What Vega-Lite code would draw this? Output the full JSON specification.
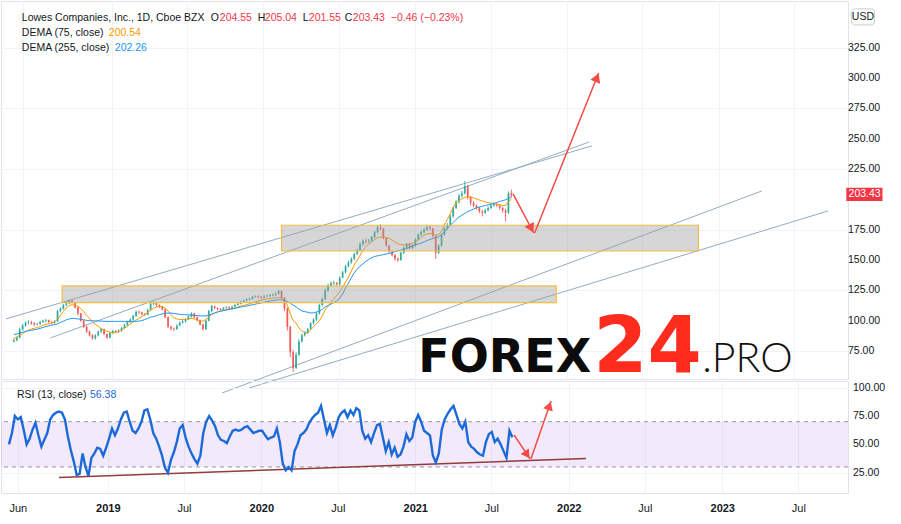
{
"$schema":"https://vega.github.io/schema/vega-lite/v6.json",
"padding":0,
"autosize":{"type":"pad"},
"background":"#ffffff",
"bounds":"flush",
"spacing":2,
"config":{"view":{"stroke":"#e0e3eb"},"text":{"font":"Liberation Sans"},"axis":{"labelFont":"Liberation Sans","labelColor":"#131722","gridColor":"#f0f3fa","domain":false,"ticks":false,"title":null}},
"datasets":{
"p":[
{"d":"2018-05-11","o":83,"h":85.5,"l":82,"c":84,"e1":85.5,"e2":88.8,"r":50},
{"d":"2018-05-18","o":84,"h":87,"l":83,"c":86,"e1":86.5,"e2":89,"r":60},
{"d":"2018-05-25","o":86,"h":94.5,"l":85.5,"c":93,"e1":88,"e2":89.8,"r":75},
{"d":"2018-06-01","o":93,"h":97.5,"l":92,"c":96,"e1":89.5,"e2":90.5,"r":72},
{"d":"2018-06-08","o":96,"h":99.5,"l":95,"c":98.5,"e1":91,"e2":91.2,"r":74},
{"d":"2018-06-15","o":98.5,"h":100.5,"l":97,"c":99,"e1":92.3,"e2":91.8,"r":63},
{"d":"2018-06-22","o":99,"h":100,"l":96.5,"c":98,"e1":93.2,"e2":92.2,"r":50},
{"d":"2018-06-29","o":98,"h":99,"l":95.5,"c":97,"e1":93.8,"e2":92.6,"r":55},
{"d":"2018-07-06","o":97,"h":98.5,"l":96,"c":97.5,"e1":94.3,"e2":93,"r":63},
{"d":"2018-07-13","o":97.5,"h":100,"l":96.5,"c":99,"e1":95.2,"e2":93.7,"r":69},
{"d":"2018-07-20","o":99,"h":101,"l":98,"c":100,"e1":96.2,"e2":94.5,"r":58},
{"d":"2018-07-27","o":100,"h":101.5,"l":98.5,"c":100.5,"e1":97,"e2":95.2,"r":48},
{"d":"2018-08-03","o":100.5,"h":101,"l":98,"c":99,"e1":97.4,"e2":95.8,"r":54},
{"d":"2018-08-10","o":99,"h":100,"l":97.5,"c":98.5,"e1":97.8,"e2":96.4,"r":60},
{"d":"2018-08-17","o":98.5,"h":100.5,"l":97.5,"c":99.5,"e1":99,"e2":96.7,"r":72},
{"d":"2018-08-24","o":99.5,"h":109,"l":99,"c":108,"e1":101.5,"e2":97.5,"r":76},
{"d":"2018-08-31","o":108,"h":111,"l":107,"c":110,"e1":104.5,"e2":98.5,"r":78},
{"d":"2018-09-07","o":110,"h":114,"l":109,"c":113,"e1":107.5,"e2":99.6,"r":79},
{"d":"2018-09-14","o":113,"h":116,"l":112,"c":114.5,"e1":110.5,"e2":100.7,"r":78},
{"d":"2018-09-21","o":114.5,"h":117.5,"l":113.5,"c":116.5,"e1":112.5,"e2":101.5,"r":72},
{"d":"2018-09-28","o":116.5,"h":117.5,"l":114,"c":115,"e1":113.2,"e2":102,"r":57},
{"d":"2018-10-05","o":115,"h":115.5,"l":110,"c":111,"e1":112.8,"e2":101.8,"r":45},
{"d":"2018-10-12","o":111,"h":111.5,"l":104.5,"c":106,"e1":112,"e2":101.5,"r":35},
{"d":"2018-10-19","o":106,"h":106.5,"l":99,"c":100,"e1":110,"e2":101.2,"r":23},
{"d":"2018-10-26","o":100,"h":101,"l":94,"c":95,"e1":107.5,"e2":100.8,"r":24},
{"d":"2018-11-02","o":95,"h":96,"l":90,"c":91,"e1":104.5,"e2":100.3,"r":42},
{"d":"2018-11-09","o":91,"h":92,"l":87,"c":88,"e1":102,"e2":100.1,"r":30},
{"d":"2018-11-16","o":88,"h":89,"l":84.5,"c":85.5,"e1":99,"e2":100,"r":22},
{"d":"2018-11-23","o":85.5,"h":89,"l":84.5,"c":88,"e1":97,"e2":99.9,"r":38},
{"d":"2018-11-30","o":88,"h":92,"l":87,"c":91,"e1":95.5,"e2":99.8,"r":42},
{"d":"2018-12-07","o":91,"h":94,"l":90,"c":93,"e1":93.5,"e2":99.7,"r":47},
{"d":"2018-12-14","o":93,"h":93.5,"l":88,"c":89,"e1":92.3,"e2":99.6,"r":46},
{"d":"2018-12-21","o":89,"h":89.5,"l":85,"c":86,"e1":91.3,"e2":99.5,"r":40},
{"d":"2018-12-28","o":86,"h":91,"l":85.5,"c":90,"e1":90.5,"e2":99.5,"r":47},
{"d":"2019-01-04","o":90,"h":92.5,"l":89,"c":91.5,"e1":90.2,"e2":99.5,"r":55},
{"d":"2019-01-11","o":91.5,"h":92.5,"l":90,"c":91,"e1":90.3,"e2":99.5,"r":64},
{"d":"2019-01-18","o":91,"h":93,"l":90,"c":92,"e1":91,"e2":99.5,"r":58},
{"d":"2019-01-25","o":92,"h":95,"l":91,"c":94,"e1":92,"e2":99.5,"r":64},
{"d":"2019-02-01","o":94,"h":97.5,"l":93.5,"c":96.5,"e1":93.8,"e2":99.5,"r":72},
{"d":"2019-02-08","o":96.5,"h":100,"l":95.5,"c":99,"e1":95.5,"e2":99.5,"r":78},
{"d":"2019-02-15","o":99,"h":102,"l":98,"c":101,"e1":97.3,"e2":99.5,"r":79},
{"d":"2019-02-22","o":101,"h":105,"l":100,"c":104,"e1":99,"e2":99.5,"r":70},
{"d":"2019-03-01","o":104,"h":108.5,"l":103,"c":107.5,"e1":100.6,"e2":99.5,"r":62},
{"d":"2019-03-08","o":107.5,"h":108.5,"l":105.5,"c":107,"e1":101.8,"e2":99.7,"r":60},
{"d":"2019-03-15","o":107,"h":107.5,"l":104.5,"c":105.5,"e1":103.5,"e2":100.2,"r":64},
{"d":"2019-03-22","o":105.5,"h":106.5,"l":104,"c":105,"e1":105,"e2":101,"r":70},
{"d":"2019-03-29","o":105,"h":110,"l":104.5,"c":109,"e1":107,"e2":102,"r":80},
{"d":"2019-04-05","o":109,"h":115,"l":108.5,"c":114,"e1":108.8,"e2":103,"r":81},
{"d":"2019-04-12","o":114,"h":116,"l":113,"c":114.5,"e1":110.3,"e2":103.5,"r":72},
{"d":"2019-04-19","o":114.5,"h":115,"l":112,"c":113,"e1":111.3,"e2":104.2,"r":60},
{"d":"2019-04-26","o":113,"h":113.5,"l":110.5,"c":111.5,"e1":111.8,"e2":105,"r":55},
{"d":"2019-05-03","o":111.5,"h":112,"l":108.5,"c":109.5,"e1":111.8,"e2":105.6,"r":48},
{"d":"2019-05-10","o":109.5,"h":110,"l":102,"c":103,"e1":110.5,"e2":106.2,"r":40},
{"d":"2019-05-17","o":103,"h":103.5,"l":94,"c":95,"e1":108,"e2":106.3,"r":29},
{"d":"2019-05-24","o":95,"h":96,"l":92,"c":93.5,"e1":105,"e2":106.3,"r":25},
{"d":"2019-05-31","o":93.5,"h":94.5,"l":91.5,"c":93,"e1":102.5,"e2":106,"r":36},
{"d":"2019-06-07","o":93,"h":97,"l":92.5,"c":96,"e1":101.5,"e2":105.7,"r":43},
{"d":"2019-06-14","o":96,"h":99.5,"l":95.5,"c":98.5,"e1":101,"e2":105.3,"r":52},
{"d":"2019-06-21","o":98.5,"h":101,"l":97.5,"c":99.5,"e1":101,"e2":105.1,"r":64},
{"d":"2019-06-28","o":99.5,"h":102,"l":98.5,"c":101,"e1":101.2,"e2":105,"r":67},
{"d":"2019-07-05","o":101,"h":104.5,"l":100.5,"c":103.5,"e1":101.7,"e2":104.8,"r":56},
{"d":"2019-07-12","o":103.5,"h":107,"l":102.5,"c":106,"e1":102,"e2":104.6,"r":48},
{"d":"2019-07-19","o":106,"h":106.5,"l":102,"c":103,"e1":101.5,"e2":104.4,"r":42},
{"d":"2019-07-26","o":103,"h":103.5,"l":99.5,"c":100.5,"e1":100.7,"e2":104.2,"r":37},
{"d":"2019-08-02","o":100.5,"h":101,"l":96,"c":97,"e1":100,"e2":104,"r":33},
{"d":"2019-08-09","o":97,"h":97.5,"l":92,"c":93,"e1":99.6,"e2":104,"r":40},
{"d":"2019-08-16","o":93,"h":101,"l":92.5,"c":100,"e1":101,"e2":104,"r":60},
{"d":"2019-08-23","o":100,"h":109,"l":99.5,"c":108,"e1":103,"e2":104.5,"r":70},
{"d":"2019-08-30","o":108,"h":113,"l":107,"c":112,"e1":105.3,"e2":105.5,"r":75},
{"d":"2019-09-06","o":112,"h":112.5,"l":109.5,"c":110.5,"e1":106.5,"e2":106.4,"r":71},
{"d":"2019-09-13","o":110.5,"h":111,"l":108.5,"c":109.5,"e1":107.3,"e2":107.2,"r":66},
{"d":"2019-09-20","o":109.5,"h":110.5,"l":108,"c":109,"e1":108,"e2":107.8,"r":58},
{"d":"2019-09-27","o":109,"h":111.5,"l":108.5,"c":110.5,"e1":108.6,"e2":108.3,"r":54},
{"d":"2019-10-04","o":110.5,"h":112,"l":109.5,"c":111,"e1":109,"e2":108.8,"r":53},
{"d":"2019-10-11","o":111,"h":112,"l":109,"c":110,"e1":109.3,"e2":109.3,"r":51},
{"d":"2019-10-18","o":110,"h":112.5,"l":109.5,"c":111.5,"e1":109.8,"e2":109.8,"r":57},
{"d":"2019-10-25","o":111.5,"h":114,"l":111,"c":113,"e1":110.5,"e2":110.3,"r":62},
{"d":"2019-11-01","o":113,"h":115,"l":112.5,"c":114,"e1":111.3,"e2":110.8,"r":63},
{"d":"2019-11-08","o":114,"h":116.5,"l":113.5,"c":115.5,"e1":112,"e2":111.3,"r":62},
{"d":"2019-11-15","o":115.5,"h":117.5,"l":115,"c":116.5,"e1":112.7,"e2":111.8,"r":63},
{"d":"2019-11-22","o":116.5,"h":118.5,"l":116,"c":117.5,"e1":113.3,"e2":112.2,"r":65},
{"d":"2019-11-29","o":117.5,"h":119,"l":117,"c":118,"e1":114,"e2":112.7,"r":66},
{"d":"2019-12-06","o":118,"h":120.5,"l":117.5,"c":119.5,"e1":114.8,"e2":113.2,"r":63},
{"d":"2019-12-13","o":119.5,"h":121,"l":119,"c":120,"e1":115.5,"e2":113.7,"r":60},
{"d":"2019-12-20","o":120,"h":121,"l":118.5,"c":119.5,"e1":116.3,"e2":114.2,"r":61},
{"d":"2019-12-27","o":119.5,"h":120.5,"l":118,"c":119,"e1":117,"e2":114.7,"r":62},
{"d":"2020-01-03","o":119,"h":121,"l":118.5,"c":120,"e1":117.5,"e2":115.3,"r":62},
{"d":"2020-01-10","o":120,"h":121.5,"l":119.5,"c":120.5,"e1":118,"e2":115.8,"r":58},
{"d":"2020-01-17","o":120.5,"h":122,"l":119.5,"c":121,"e1":118.4,"e2":116.3,"r":54.5},
{"d":"2020-01-24","o":121,"h":122.5,"l":120,"c":121.5,"e1":118.6,"e2":116.7,"r":56},
{"d":"2020-01-31","o":121.5,"h":123.5,"l":120.5,"c":122.5,"e1":118.9,"e2":117,"r":57},
{"d":"2020-02-07","o":122.5,"h":125.5,"l":121.5,"c":124.5,"e1":119.2,"e2":117.3,"r":64},
{"d":"2020-02-14","o":124.5,"h":125,"l":118,"c":119,"e1":119.1,"e2":117.2,"r":52},
{"d":"2020-02-21","o":119,"h":119.5,"l":108,"c":110,"e1":116.5,"e2":116.8,"r":33},
{"d":"2020-02-28","o":110,"h":111,"l":92,"c":95,"e1":113,"e2":116,"r":27},
{"d":"2020-03-06","o":95,"h":96,"l":70,"c":74,"e1":106,"e2":114.5,"r":30},
{"d":"2020-03-13","o":74,"h":76,"l":58,"c":61,"e1":100,"e2":112.8,"r":27},
{"d":"2020-03-20","o":61,"h":74,"l":60,"c":72,"e1":98,"e2":111.5,"r":44},
{"d":"2020-03-27","o":72,"h":85,"l":71,"c":83,"e1":94,"e2":109.5,"r":50},
{"d":"2020-04-03","o":83,"h":89.5,"l":82,"c":88,"e1":91.5,"e2":108,"r":58},
{"d":"2020-04-10","o":88,"h":91.5,"l":87,"c":90,"e1":90.3,"e2":107.5,"r":60},
{"d":"2020-04-17","o":90,"h":94,"l":89,"c":93,"e1":90.3,"e2":107,"r":63},
{"d":"2020-04-24","o":93,"h":99,"l":92.5,"c":98,"e1":92.5,"e2":106.4,"r":69},
{"d":"2020-05-01","o":98,"h":102,"l":97,"c":101,"e1":95,"e2":106.5,"r":73},
{"d":"2020-05-08","o":101,"h":107,"l":100,"c":106,"e1":97.5,"e2":107.2,"r":76},
{"d":"2020-05-15","o":106,"h":114,"l":105,"c":113,"e1":100,"e2":107.8,"r":78},
{"d":"2020-05-22","o":113,"h":119,"l":112,"c":118,"e1":104,"e2":109.5,"r":84},
{"d":"2020-05-29","o":118,"h":126.5,"l":117,"c":125,"e1":109,"e2":111.5,"r":72},
{"d":"2020-06-05","o":125,"h":130.5,"l":124,"c":129,"e1":112,"e2":112.5,"r":60},
{"d":"2020-06-12","o":129,"h":132.5,"l":128,"c":131,"e1":115.5,"e2":113.8,"r":67},
{"d":"2020-06-19","o":131,"h":133,"l":129.5,"c":131.3,"e1":118,"e2":115,"r":58},
{"d":"2020-06-26","o":131.3,"h":132,"l":128.5,"c":130,"e1":121,"e2":116.5,"r":65},
{"d":"2020-07-03","o":130,"h":136.5,"l":129.5,"c":135.5,"e1":124,"e2":118.5,"r":74},
{"d":"2020-07-10","o":135.5,"h":141,"l":135,"c":140,"e1":127.5,"e2":122,"r":78},
{"d":"2020-07-17","o":140,"h":146,"l":139,"c":145,"e1":132,"e2":127,"r":80},
{"d":"2020-07-24","o":145,"h":149.5,"l":144,"c":148,"e1":136,"e2":131,"r":74},
{"d":"2020-07-31","o":148,"h":152.5,"l":147,"c":151,"e1":141,"e2":135.5,"r":80},
{"d":"2020-08-07","o":151,"h":156,"l":150,"c":155,"e1":146,"e2":139.5,"r":76},
{"d":"2020-08-14","o":155,"h":159.5,"l":154,"c":158,"e1":150,"e2":142.5,"r":82},
{"d":"2020-08-21","o":158,"h":164.5,"l":157,"c":163,"e1":154,"e2":145,"r":80},
{"d":"2020-08-28","o":163,"h":167,"l":162,"c":166,"e1":158,"e2":147,"r":62},
{"d":"2020-09-04","o":166,"h":167.5,"l":163.5,"c":165.5,"e1":161,"e2":149,"r":55},
{"d":"2020-09-11","o":165.5,"h":167.5,"l":164,"c":166,"e1":163,"e2":150.5,"r":58},
{"d":"2020-09-18","o":166,"h":170,"l":165,"c":169,"e1":165,"e2":152,"r":52},
{"d":"2020-09-25","o":169,"h":174,"l":168,"c":173,"e1":167,"e2":153,"r":60},
{"d":"2020-10-02","o":173,"h":178.5,"l":172,"c":177,"e1":168.5,"e2":153.5,"r":67},
{"d":"2020-10-09","o":177,"h":179.5,"l":174.5,"c":176,"e1":169,"e2":154,"r":68},
{"d":"2020-10-16","o":176,"h":176.5,"l":167,"c":168,"e1":169,"e2":154.5,"r":56},
{"d":"2020-10-23","o":168,"h":168.5,"l":161,"c":162,"e1":168.5,"e2":155,"r":44},
{"d":"2020-10-30","o":162,"h":162.5,"l":156,"c":157,"e1":168,"e2":155.5,"r":52},
{"d":"2020-11-06","o":157,"h":158,"l":153,"c":154,"e1":166.5,"e2":156,"r":41},
{"d":"2020-11-13","o":154,"h":155,"l":149.5,"c":151,"e1":165,"e2":156.8,"r":47},
{"d":"2020-11-20","o":151,"h":152,"l":148.5,"c":150,"e1":163.5,"e2":157.5,"r":39},
{"d":"2020-11-27","o":150,"h":157,"l":149.5,"c":156,"e1":162.7,"e2":158.2,"r":41},
{"d":"2020-12-04","o":156,"h":161,"l":155,"c":160,"e1":162.5,"e2":158.7,"r":48},
{"d":"2020-12-11","o":160,"h":164,"l":159,"c":163,"e1":162.8,"e2":159.5,"r":59},
{"d":"2020-12-18","o":163,"h":163.5,"l":159,"c":160,"e1":163.4,"e2":160.5,"r":53},
{"d":"2020-12-25","o":160,"h":163,"l":159,"c":162,"e1":163.8,"e2":161.5,"r":56},
{"d":"2021-01-01","o":162,"h":168,"l":161,"c":167,"e1":165,"e2":162.5,"r":70},
{"d":"2021-01-08","o":167,"h":172,"l":166,"c":171,"e1":166.5,"e2":163.3,"r":76},
{"d":"2021-01-15","o":171,"h":174.5,"l":170,"c":173,"e1":169,"e2":164,"r":70},
{"d":"2021-01-22","o":173,"h":176.5,"l":172,"c":175,"e1":170.5,"e2":165,"r":62},
{"d":"2021-01-29","o":175,"h":179,"l":174,"c":177,"e1":171.5,"e2":166,"r":60},
{"d":"2021-02-05","o":177,"h":178.5,"l":174.5,"c":176,"e1":172,"e2":167,"r":58},
{"d":"2021-02-12","o":176,"h":176.5,"l":168.5,"c":170,"e1":171.7,"e2":167.8,"r":40},
{"d":"2021-02-19","o":170,"h":170.5,"l":151,"c":156,"e1":170.8,"e2":168.5,"r":34},
{"d":"2021-02-26","o":156,"h":163,"l":155,"c":162,"e1":170.6,"e2":169,"r":42},
{"d":"2021-03-05","o":162,"h":172,"l":161,"c":171,"e1":174,"e2":171,"r":63},
{"d":"2021-03-12","o":171,"h":177,"l":170,"c":176,"e1":179,"e2":173.5,"r":72},
{"d":"2021-03-19","o":176,"h":180.5,"l":175,"c":179,"e1":183.5,"e2":176,"r":77},
{"d":"2021-03-26","o":179,"h":187.5,"l":178,"c":186,"e1":188.5,"e2":178.5,"r":81},
{"d":"2021-04-02","o":186,"h":194,"l":185,"c":193,"e1":193.5,"e2":181,"r":84},
{"d":"2021-04-09","o":193,"h":199.5,"l":192,"c":198,"e1":197,"e2":183.5,"r":76},
{"d":"2021-04-16","o":198,"h":204.5,"l":196.5,"c":203,"e1":199,"e2":185.5,"r":68},
{"d":"2021-04-23","o":203,"h":207,"l":201.5,"c":205,"e1":200.5,"e2":187,"r":64},
{"d":"2021-04-30","o":205,"h":215,"l":204,"c":211,"e1":201.7,"e2":188.5,"r":70},
{"d":"2021-05-07","o":211,"h":212,"l":200,"c":202,"e1":202,"e2":190,"r":52},
{"d":"2021-05-14","o":202,"h":203,"l":195,"c":197,"e1":201.8,"e2":191,"r":48},
{"d":"2021-05-21","o":197,"h":198.5,"l":193.5,"c":195,"e1":201.2,"e2":192,"r":46},
{"d":"2021-05-28","o":195,"h":196,"l":191.5,"c":193,"e1":200.4,"e2":193,"r":43},
{"d":"2021-06-04","o":193,"h":194,"l":188.5,"c":190,"e1":199.5,"e2":193.7,"r":41},
{"d":"2021-06-11","o":190,"h":191.5,"l":186,"c":189,"e1":198.8,"e2":194.3,"r":40},
{"d":"2021-06-18","o":189,"h":192.5,"l":188,"c":191,"e1":198,"e2":195,"r":52},
{"d":"2021-06-25","o":191,"h":194.5,"l":190,"c":193,"e1":197.4,"e2":195.5,"r":59},
{"d":"2021-07-02","o":193,"h":196.5,"l":192,"c":195,"e1":197,"e2":196,"r":61},
{"d":"2021-07-09","o":195,"h":197.5,"l":194,"c":196,"e1":196.5,"e2":196.7,"r":52},
{"d":"2021-07-16","o":196,"h":197,"l":193.5,"c":195,"e1":196,"e2":197.5,"r":55},
{"d":"2021-07-23","o":195,"h":196,"l":191.5,"c":193,"e1":195.5,"e2":198.3,"r":50},
{"d":"2021-07-30","o":193,"h":194,"l":189,"c":191,"e1":195,"e2":199,"r":44},
{"d":"2021-08-06","o":191,"h":192,"l":182,"c":189,"e1":195,"e2":199.7,"r":38},
{"d":"2021-08-13","o":189,"h":206.5,"l":188,"c":205,"e1":198,"e2":200.8,"r":62},
{"d":"2021-08-20","o":205,"h":208,"l":201.5,"c":203.43,"e1":200.54,"e2":202.26,"r":56.38}
],
"chan":[
{"g":"A","d":"2018-04-22","v":101.5},{"g":"A","d":"2022-03-02","v":244.1},
{"g":"B","d":"2018-08-07","v":85.8},{"g":"B","d":"2022-02-23","v":247.3},
{"g":"C","d":"2019-09-24","v":40.5},{"g":"C","d":"2023-04-15","v":207},
{"g":"D","d":"2019-11-28","v":44.6},{"g":"D","d":"2023-09-21","v":190.5}
],
"zones":[
{"d":"2018-09-04","d2":"2021-12-06","v":128.7,"v2":114.9},
{"d":"2020-02-14","d2":"2022-11-13","v":178.7,"v2":157.5}
],
"arrows":[
{"d":"2021-08-24","v":204.5,"d2":"2021-10-13","v2":172.3},
{"d":"2021-10-15","v":172.3,"d2":"2022-03-18","v2":304.2}
],
"rarrows":[
{"d":"2021-08-24","v":58.3,"d2":"2021-10-01","v2":37.1},
{"d":"2021-10-03","v":37.1,"d2":"2021-11-20","v2":88.3}
],
"levels":[{"v":70},{"v":30}],
"pticks":[{"v":75},{"v":100},{"v":125},{"v":150},{"v":175},{"v":225},{"v":250},{"v":275},{"v":300},{"v":325}],
"rticks":[{"v":25},{"v":50},{"v":75},{"v":100}]
},
"vconcat":[
{
"width":847,"height":378,
"layer":[
{"data":{"name":"chan"},"mark":{"type":"line","color":"#93adc0","strokeWidth":1},
 "encoding":{
  "x":{"field":"d","type":"temporal","scale":{"type":"utc","domain":[{"year":2018,"month":4,"date":22,"utc":true},{"year":2023,"month":10,"date":27,"utc":true}]},
   "axis":{"values":[{"year":2018,"month":6,"date":1,"utc":true},{"year":2019,"month":1,"date":1,"utc":true},{"year":2019,"month":7,"date":1,"utc":true},{"year":2020,"month":1,"date":1,"utc":true},{"year":2020,"month":7,"date":1,"utc":true},{"year":2021,"month":1,"date":1,"utc":true},{"year":2021,"month":7,"date":1,"utc":true},{"year":2022,"month":1,"date":1,"utc":true},{"year":2022,"month":7,"date":1,"utc":true},{"year":2023,"month":1,"date":1,"utc":true},{"year":2023,"month":7,"date":1,"utc":true}],"labels":false,"grid":true}},
  "y":{"field":"v","type":"quantitative","scale":{"domain":[52,363.5],"nice":false,"zero":false},
   "axis":{"orient":"right","values":[75,100,125,150,175,200,225,250,275,300,325,350],"labels":false,"grid":true}},
  "detail":{"field":"g"}}},
{"data":{"name":"pticks"},"mark":{"type":"text","align":"left","baseline":"middle","dx":5,"fontSize":10.5,"color":"#131722"},
 "encoding":{"x":{"datum":{"year":2023,"month":10,"date":27,"utc":true},"type":"temporal"},"y":{"field":"v","type":"quantitative"},"text":{"field":"v","type":"quantitative","format":".2f"}}},
{"data":{"name":"p"},"mark":{"type":"rule","strokeWidth":1,"opacity":0.85},
 "encoding":{"x":{"field":"d","type":"temporal"},"y":{"field":"l","type":"quantitative"},"y2":{"field":"h"},
  "color":{"condition":{"test":"datum.c >= datum.o","value":"#26a69a"},"value":"#ef5350"}}},
{"data":{"name":"p"},"mark":{"type":"bar","width":1.8,"opacity":0.85},
 "encoding":{"x":{"field":"d","type":"temporal"},"y":{"field":"o","type":"quantitative"},"y2":{"field":"c"},
  "color":{"condition":{"test":"datum.c >= datum.o","value":"#26a69a"},"value":"#ef5350"}}},
{"data":{"name":"p"},"mark":{"type":"line","color":"#ff9800","strokeWidth":1},
 "encoding":{"x":{"field":"d","type":"temporal"},"y":{"field":"e1","type":"quantitative"}}},
{"data":{"name":"p"},"mark":{"type":"line","color":"#2196f3","strokeWidth":1},
 "encoding":{"x":{"field":"d","type":"temporal"},"y":{"field":"e2","type":"quantitative"}}},
{"data":{"name":"zones"},"mark":{"type":"rect","fill":"#9e9e9e","fillOpacity":0.42,"stroke":"#f3bd43","strokeWidth":1.2},
 "encoding":{"x":{"field":"d","type":"temporal"},"x2":{"field":"d2"},"y":{"field":"v","type":"quantitative"},"y2":{"field":"v2"}}},
{"data":{"name":"arrows"},"mark":{"type":"rule","color":"#f44c45","strokeWidth":1.5},
 "encoding":{"x":{"field":"d","type":"temporal"},"x2":{"field":"d2"},"y":{"field":"v","type":"quantitative"},"y2":{"field":"v2"}}},
{"data":{"values":[{}]},"mark":{"type":"point","shape":"triangle-up","filled":true,"size":110,"angle":153,"color":"#f44c45","opacity":1},
 "encoding":{"x":{"datum":{"year":2021,"month":10,"date":7,"utc":true},"type":"temporal"},"y":{"datum":176,"type":"quantitative"}}},
{"data":{"values":[{}]},"mark":{"type":"point","shape":"triangle-up","filled":true,"size":110,"angle":22,"color":"#f44c45","opacity":1},
 "encoding":{"x":{"datum":{"year":2022,"month":3,"date":14,"utc":true},"type":"temporal"},"y":{"datum":300.4,"type":"quantitative"}}},
{"data":{"values":[{}]},"mark":{"type":"text","text":"FOREX","font":"DejaVu Sans","fontWeight":"bold","fontSize":46,"color":"#0b0b0b","align":"left","baseline":"alphabetic"},
 "encoding":{"x":{"datum":{"year":2021,"month":1,"date":8,"utc":true},"type":"temporal"},"y":{"datum":57.4,"type":"quantitative"}}},
{"data":{"values":[{}]},"mark":{"type":"text","text":"24","font":"DejaVu Sans","fontWeight":"bold","fontSize":78,"color":"#fe2c1d","align":"left","baseline":"alphabetic","dx":175},
 "encoding":{"x":{"datum":{"year":2021,"month":1,"date":8,"utc":true},"type":"temporal"},"y":{"datum":57.4,"type":"quantitative"}}},
{"data":{"values":[{}]},"mark":{"type":"text","text":".PRO","font":"Lato","fontWeight":300,"fontSize":41,"color":"#111111","align":"left","baseline":"alphabetic","dx":284},
 "encoding":{"x":{"datum":{"year":2021,"month":1,"date":8,"utc":true},"type":"temporal"},"y":{"datum":57.4,"type":"quantitative"}}},
{"data":{"values":[{}]},"mark":{"type":"text","text":"Lowes Companies, Inc., 1D, Cboe BZX","fontSize":10.5,"color":"#131722","align":"left","baseline":"middle"},
 "encoding":{"x":{"datum":{"year":2018,"month":5,"date":30,"utc":true},"type":"temporal"},"y":{"datum":349.8,"type":"quantitative"}}},
{"data":{"values":[{}]},"mark":{"type":"text","text":"O","fontSize":10.5,"color":"#131722","align":"left","baseline":"middle","dx":189},
 "encoding":{"x":{"datum":{"year":2018,"month":5,"date":30,"utc":true},"type":"temporal"},"y":{"datum":349.8,"type":"quantitative"}}},
{"data":{"values":[{}]},"mark":{"type":"text","text":"204.55","fontSize":10.5,"color":"#f23645","align":"left","baseline":"middle","dx":198},
 "encoding":{"x":{"datum":{"year":2018,"month":5,"date":30,"utc":true},"type":"temporal"},"y":{"datum":349.8,"type":"quantitative"}}},
{"data":{"values":[{}]},"mark":{"type":"text","text":"H","fontSize":10.5,"color":"#131722","align":"left","baseline":"middle","dx":236},
 "encoding":{"x":{"datum":{"year":2018,"month":5,"date":30,"utc":true},"type":"temporal"},"y":{"datum":349.8,"type":"quantitative"}}},
{"data":{"values":[{}]},"mark":{"type":"text","text":"205.04","fontSize":10.5,"color":"#f23645","align":"left","baseline":"middle","dx":243},
 "encoding":{"x":{"datum":{"year":2018,"month":5,"date":30,"utc":true},"type":"temporal"},"y":{"datum":349.8,"type":"quantitative"}}},
{"data":{"values":[{}]},"mark":{"type":"text","text":"L","fontSize":10.5,"color":"#131722","align":"left","baseline":"middle","dx":281},
 "encoding":{"x":{"datum":{"year":2018,"month":5,"date":30,"utc":true},"type":"temporal"},"y":{"datum":349.8,"type":"quantitative"}}},
{"data":{"values":[{}]},"mark":{"type":"text","text":"201.55","fontSize":10.5,"color":"#f23645","align":"left","baseline":"middle","dx":287},
 "encoding":{"x":{"datum":{"year":2018,"month":5,"date":30,"utc":true},"type":"temporal"},"y":{"datum":349.8,"type":"quantitative"}}},
{"data":{"values":[{}]},"mark":{"type":"text","text":"C","fontSize":10.5,"color":"#131722","align":"left","baseline":"middle","dx":323},
 "encoding":{"x":{"datum":{"year":2018,"month":5,"date":30,"utc":true},"type":"temporal"},"y":{"datum":349.8,"type":"quantitative"}}},
{"data":{"values":[{}]},"mark":{"type":"text","text":"203.43","fontSize":10.5,"color":"#f23645","align":"left","baseline":"middle","dx":331},
 "encoding":{"x":{"datum":{"year":2018,"month":5,"date":30,"utc":true},"type":"temporal"},"y":{"datum":349.8,"type":"quantitative"}}},
{"data":{"values":[{}]},"mark":{"type":"text","text":"−0.46 (−0.23%)","fontSize":10.5,"color":"#f23645","align":"left","baseline":"middle","dx":369},
 "encoding":{"x":{"datum":{"year":2018,"month":5,"date":30,"utc":true},"type":"temporal"},"y":{"datum":349.8,"type":"quantitative"}}},
{"data":{"values":[{}]},"mark":{"type":"text","text":"DEMA (75, close)","fontSize":10.5,"color":"#131722","align":"left","baseline":"middle"},
 "encoding":{"x":{"datum":{"year":2018,"month":5,"date":30,"utc":true},"type":"temporal"},"y":{"datum":336.9,"type":"quantitative"}}},
{"data":{"values":[{}]},"mark":{"type":"text","text":"200.54","fontSize":10.5,"color":"#ff9800","align":"left","baseline":"middle","dx":87},
 "encoding":{"x":{"datum":{"year":2018,"month":5,"date":30,"utc":true},"type":"temporal"},"y":{"datum":336.9,"type":"quantitative"}}},
{"data":{"values":[{}]},"mark":{"type":"text","text":"DEMA (255, close)","fontSize":10.5,"color":"#131722","align":"left","baseline":"middle"},
 "encoding":{"x":{"datum":{"year":2018,"month":5,"date":30,"utc":true},"type":"temporal"},"y":{"datum":324.6,"type":"quantitative"}}},
{"data":{"values":[{}]},"mark":{"type":"text","text":"202.26","fontSize":10.5,"color":"#2196f3","align":"left","baseline":"middle","dx":93},
 "encoding":{"x":{"datum":{"year":2018,"month":5,"date":30,"utc":true},"type":"temporal"},"y":{"datum":324.6,"type":"quantitative"}}},
{"data":{"values":[{}]},"mark":{"type":"rect","fill":"#ffffff","stroke":"#c9ccd4","strokeWidth":1,"cornerRadius":3},
 "encoding":{"x":{"datum":{"year":2023,"month":11,"date":17,"utc":true},"type":"temporal"},"x2":{"datum":{"year":2024,"month":1,"date":11,"utc":true}},"y":{"datum":357,"type":"quantitative"},"y2":{"datum":343.8}}},
{"data":{"values":[{}]},"mark":{"type":"text","text":"USD","fontSize":10.5,"color":"#131722","align":"center","baseline":"middle"},
 "encoding":{"x":{"datum":{"year":2023,"month":12,"date":14,"utc":true},"type":"temporal"},"y":{"datum":350.4,"type":"quantitative"}}},
{"data":{"values":[{}]},"mark":{"type":"rect","fill":"#f23645"},
 "encoding":{"x":{"datum":{"year":2023,"month":11,"date":4,"utc":true},"type":"temporal"},"x2":{"datum":{"year":2024,"month":1,"date":30,"utc":true}},"y":{"datum":209.7,"type":"quantitative"},"y2":{"datum":198.7}}},
{"data":{"values":[{}]},"mark":{"type":"text","text":"203.43","fontSize":10.5,"color":"#ffffff","align":"center","baseline":"middle"},
 "encoding":{"x":{"datum":{"year":2023,"month":12,"date":18,"utc":true},"type":"temporal"},"y":{"datum":204.2,"type":"quantitative"}}}
]
},
{
"width":847,"height":112,
"layer":[
{"data":{"values":[{}]},"mark":{"type":"rect","fill":"#b47be0","fillOpacity":0.17},
 "encoding":{
  "x":{"datum":{"year":2018,"month":4,"date":22,"utc":true},"type":"temporal","scale":{"type":"utc","domain":[{"year":2018,"month":4,"date":22,"utc":true},{"year":2023,"month":10,"date":27,"utc":true}]},
   "axis":{"values":[{"year":2018,"month":6,"date":1,"utc":true},{"year":2019,"month":1,"date":1,"utc":true},{"year":2019,"month":7,"date":1,"utc":true},{"year":2020,"month":1,"date":1,"utc":true},{"year":2020,"month":7,"date":1,"utc":true},{"year":2021,"month":1,"date":1,"utc":true},{"year":2021,"month":7,"date":1,"utc":true},{"year":2022,"month":1,"date":1,"utc":true},{"year":2022,"month":7,"date":1,"utc":true},{"year":2023,"month":1,"date":1,"utc":true},{"year":2023,"month":7,"date":1,"utc":true}],
    "labelExpr":"utcmonth(datum.value)==0 ? utcFormat(datum.value,'%Y') : utcFormat(datum.value,'%b')",
    "labelFontWeight":{"condition":{"test":"utcmonth(datum.value)==0","value":"bold"},"value":"normal"},
    "labelFontSize":11,"labelPadding":9,"labelFlush":false,"labelOverlap":false,"grid":true}},
  "x2":{"datum":{"year":2023,"month":10,"date":27,"utc":true}},
  "y":{"datum":30,"type":"quantitative","scale":{"domain":[7,106],"nice":false,"zero":false},
   "axis":{"orient":"right","values":[25,50,75,100],"labels":false,"grid":true}},
  "y2":{"datum":70}}},
{"data":{"name":"rticks"},"mark":{"type":"text","align":"left","baseline":"middle","dx":5,"fontSize":10.5,"color":"#131722"},
 "encoding":{"x":{"datum":{"year":2023,"month":10,"date":27,"utc":true},"type":"temporal"},"y":{"field":"v","type":"quantitative"},"text":{"field":"v","type":"quantitative","format":".2f"}}},
{"data":{"name":"levels"},"mark":{"type":"rule","color":"#9598a1","strokeDash":[4,4],"strokeWidth":1},
 "encoding":{"y":{"field":"v","type":"quantitative"}}},
{"data":{"values":[{}]},"mark":{"type":"rule","color":"#943c3c","strokeWidth":1.5},
 "encoding":{"x":{"datum":{"year":2018,"month":9,"date":7,"utc":true},"type":"temporal"},"x2":{"datum":{"year":2022,"month":2,"date":11,"utc":true}},"y":{"datum":20.6,"type":"quantitative"},"y2":{"datum":37.5}}},
{"data":{"name":"p"},"mark":{"type":"line","color":"#1c6ad8","strokeWidth":2.4},
 "encoding":{"x":{"field":"d","type":"temporal"},"y":{"field":"r","type":"quantitative"}}},
{"data":{"name":"rarrows"},"mark":{"type":"rule","color":"#f44c45","strokeWidth":1.5},
 "encoding":{"x":{"field":"d","type":"temporal"},"x2":{"field":"d2"},"y":{"field":"v","type":"quantitative"},"y2":{"field":"v2"}}},
{"data":{"values":[{}]},"mark":{"type":"point","shape":"triangle-up","filled":true,"size":100,"angle":146,"color":"#f44c45","opacity":1},
 "encoding":{"x":{"datum":{"year":2021,"month":9,"date":24,"utc":true},"type":"temporal"},"y":{"datum":40.8,"type":"quantitative"}}},
{"data":{"values":[{}]},"mark":{"type":"point","shape":"triangle-up","filled":true,"size":100,"angle":19,"color":"#f44c45","opacity":1},
 "encoding":{"x":{"datum":{"year":2021,"month":11,"date":16,"utc":true},"type":"temporal"},"y":{"datum":84.1,"type":"quantitative"}}},
{"data":{"values":[{}]},"mark":{"type":"text","text":"RSI (13, close)","fontSize":10.5,"color":"#131722","align":"left","baseline":"middle"},
 "encoding":{"x":{"datum":{"year":2018,"month":5,"date":30,"utc":true},"type":"temporal"},"y":{"datum":93.6,"type":"quantitative"}}},
{"data":{"values":[{}]},"mark":{"type":"text","text":"56.38","fontSize":10.5,"color":"#1c6ad8","align":"left","baseline":"middle","dx":73},
 "encoding":{"x":{"datum":{"year":2018,"month":5,"date":30,"utc":true},"type":"temporal"},"y":{"datum":93.6,"type":"quantitative"}}}
]
}
]
}
